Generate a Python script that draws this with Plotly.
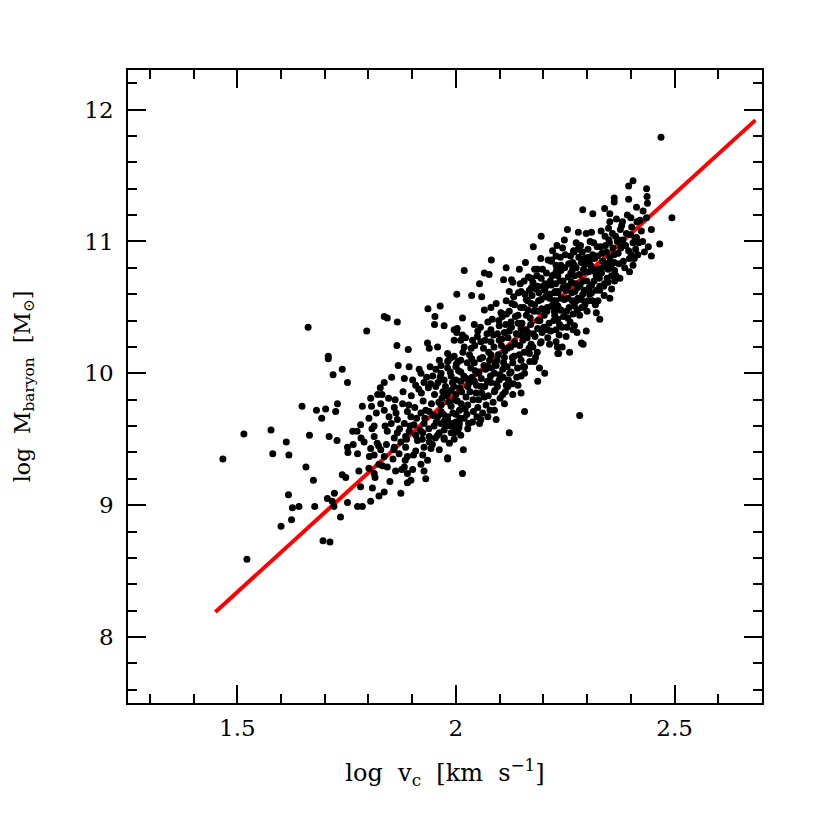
import plotly.graph_objects as go

# galaxies: (log v_c, log M_baryon)
sparse_left = [
    (1.662, 10.35), (1.708, 10.13), (1.708, 10.11), (1.719, 9.99), (1.740, 10.03),
    (1.752, 9.93), (1.648, 9.75), (1.681, 9.72), (1.702, 9.73), (1.693, 9.66),
    (1.729, 9.77), (1.725, 9.71), (1.515, 9.54), (1.577, 9.57), (1.467, 9.35),
    (1.581, 9.39), (1.612, 9.48), (1.618, 9.38), (1.665, 9.53), (1.710, 9.52),
    (1.728, 9.49), (1.764, 9.56), (1.774, 9.56), (1.752, 9.44), (1.765, 9.46),
    (1.753, 9.40), (1.775, 9.39), (1.657, 9.29), (1.674, 9.19), (1.740, 9.23),
    (1.748, 9.21), (1.617, 9.08), (1.626, 8.98), (1.641, 8.99), (1.677, 8.99),
    (1.706, 9.05), (1.717, 9.03), (1.722, 9.09), (1.721, 8.99), (1.736, 8.91),
    (1.752, 9.02), (1.775, 8.99), (1.624, 8.89), (1.600, 8.84), (1.696, 8.73),
    (1.712, 8.72), (1.522, 8.59), (1.786, 8.99), (1.805, 9.03),
]

core_left = [
    (2.002, 10.60), (1.964, 10.51), (1.936, 10.49), (1.952, 10.43), (1.951, 10.37),
    (1.836, 10.43), (1.843, 10.42), (1.866, 10.39), (1.796, 10.32), (1.973, 10.36),
    (1.996, 10.33), (2.002, 10.31), (1.996, 10.25), (1.935, 10.23), (1.939, 10.19),
    (1.958, 10.20), (1.865, 10.21), (1.891, 10.18), (1.962, 10.10), (1.981, 10.09),
    (1.989, 10.12), (2.005, 10.09), (1.868, 10.06), (1.893, 10.05), (1.916, 10.03),
    (1.920, 10.00), (1.941, 10.05), (1.954, 10.03), (1.947, 9.98), (1.966, 10.00),
    (1.973, 9.95), (1.989, 9.98), (2.000, 9.95), (1.853, 9.97), (1.882, 9.96),
    (1.901, 9.95), (1.908, 9.91), (1.927, 9.93), (1.937, 9.89), (1.954, 9.90),
    (1.970, 9.86), (1.989, 9.87), (2.008, 9.89), (1.836, 9.93), (1.821, 9.84),
    (1.831, 9.84), (1.805, 9.81), (1.828, 9.77), (1.786, 9.75), (1.807, 9.75),
    (1.836, 9.72), (1.859, 9.74), (1.878, 9.77), (1.889, 9.71), (1.897, 9.67),
    (1.920, 9.70), (1.939, 9.71), (1.958, 9.67), (1.966, 9.71), (1.981, 9.67),
    (2.000, 9.69), (1.847, 9.67), (1.866, 9.65), (1.882, 9.62), (1.904, 9.61),
    (1.927, 9.62), (1.950, 9.60), (1.966, 9.62), (1.989, 9.60), (2.008, 9.62),
    (1.801, 9.66), (1.813, 9.60), (1.782, 9.61), (1.783, 9.51), (1.790, 9.48),
    (1.813, 9.52), (1.820, 9.47), (1.843, 9.56), (1.859, 9.51), (1.866, 9.55),
    (1.885, 9.52), (1.893, 9.56), (1.908, 9.53), (1.924, 9.55), (1.939, 9.52),
    (1.958, 9.53), (1.973, 9.51), (1.996, 9.55), (1.805, 9.43), (1.813, 9.38),
    (1.828, 9.42), (1.836, 9.37), (1.859, 9.44), (1.870, 9.39), (1.885, 9.44),
    (1.889, 9.37), (1.908, 9.41), (1.924, 9.38), (1.943, 9.43), (1.962, 9.42),
    (1.981, 9.36), (1.935, 9.34), (1.778, 9.26), (1.801, 9.28), (1.813, 9.24),
    (1.824, 9.31), (1.843, 9.29), (1.862, 9.26), (1.882, 9.29), (1.889, 9.24),
    (1.901, 9.27), (1.920, 9.31), (1.927, 9.26), (1.782, 9.14), (1.809, 9.13),
    (1.824, 9.07), (1.836, 9.10), (1.874, 9.09), (1.889, 9.17), (1.897, 9.19),
    (1.931, 9.20), (1.939, 9.48), (1.927, 9.44),
]

core_middle = [
    (2.177, 10.96), (2.229, 10.89), (2.081, 10.86), (2.218, 10.85), (2.229, 10.82),
    (2.019, 10.78), (2.115, 10.80), (2.145, 10.79), (2.159, 10.84), (2.180, 10.79),
    (2.187, 10.79), (2.065, 10.76), (2.076, 10.75), (2.109, 10.71), (2.127, 10.71),
    (2.130, 10.69), (2.156, 10.70), (2.172, 10.72), (2.176, 10.69), (2.195, 10.72),
    (2.225, 10.75), (2.233, 10.74), (2.054, 10.68), (2.036, 10.59), (2.059, 10.58),
    (2.122, 10.62), (2.149, 10.62), (2.168, 10.63), (2.187, 10.66), (2.203, 10.63),
    (2.218, 10.67), (2.233, 10.61), (2.092, 10.53), (2.115, 10.55), (2.134, 10.52),
    (2.161, 10.56), (2.172, 10.53), (2.195, 10.56), (2.214, 10.57), (2.065, 10.48),
    (2.080, 10.50), (2.103, 10.46), (2.122, 10.47), (2.142, 10.44), (2.165, 10.48),
    (2.187, 10.47), (2.209, 10.50), (2.225, 10.47), (2.233, 10.41), (2.015, 10.42),
    (2.003, 10.34), (2.015, 10.29), (2.042, 10.37), (2.050, 10.32), (2.073, 10.39),
    (2.080, 10.33), (2.099, 10.36), (2.111, 10.31), (2.126, 10.39), (2.149, 10.34),
    (2.165, 10.31), (2.187, 10.34), (2.209, 10.33), (2.229, 10.33), (2.233, 10.15),
    (2.214, 10.22), (2.195, 10.24), (2.172, 10.22), (2.153, 10.25), (2.134, 10.24),
    (2.119, 10.27), (2.099, 10.25), (2.080, 10.24), (2.057, 10.24), (2.038, 10.25),
    (2.019, 10.20), (2.011, 10.25), (1.981, 10.15), (1.996, 10.13), (2.011, 10.10),
    (2.031, 10.14), (2.042, 10.08), (2.061, 10.12), (2.080, 10.14), (2.092, 10.06),
    (2.111, 10.12), (2.130, 10.08), (2.149, 10.10), (2.168, 10.15), (2.179, 10.09),
    (2.191, 10.04), (2.203, 10.00), (2.187, 9.94), (1.966, 10.06), (1.981, 10.04),
    (2.000, 10.05), (2.011, 10.01), (2.034, 10.04), (2.053, 10.01), (2.073, 10.05),
    (2.088, 10.00), (2.107, 10.03), (2.126, 10.01), (2.149, 9.98), (2.157, 10.05),
    (1.992, 9.93), (2.011, 9.94), (2.027, 9.90), (2.042, 9.94), (2.057, 9.90),
    (2.080, 9.93), (2.099, 9.95), (2.119, 9.90), (2.142, 9.91), (2.149, 9.85),
    (2.130, 9.84), (2.107, 9.84), (2.088, 9.86), (2.065, 9.82), (2.046, 9.85),
    (2.023, 9.82), (2.000, 9.84), (1.981, 9.85), (1.966, 9.76), (1.989, 9.75),
    (2.008, 9.72), (2.027, 9.76), (2.050, 9.74), (2.069, 9.76), (2.088, 9.72),
    (2.111, 9.77), (2.157, 9.71), (1.981, 9.65), (2.000, 9.63), (2.019, 9.66),
    (2.038, 9.63), (2.054, 9.62), (2.073, 9.67), (2.092, 9.65), (1.973, 9.57),
    (1.989, 9.55), (2.004, 9.56), (2.027, 9.58), (2.122, 9.55), (1.973, 9.50),
    (1.985, 9.47), (1.996, 9.50), (2.017, 9.42), (1.981, 9.35), (2.015, 9.24),
    (2.283, 9.68), (2.095, 9.90), (2.115, 9.91), (2.057, 9.65), (2.011, 9.53),
]

core_upper = [
    (2.405, 11.46), (2.395, 11.42), (2.436, 11.40), (2.362, 11.33), (2.362, 11.30),
    (2.395, 11.32), (2.438, 11.29), (2.290, 11.24), (2.313, 11.21), (2.340, 11.25),
    (2.352, 11.21), (2.352, 11.15), (2.428, 11.23), (2.436, 11.18), (2.414, 11.15),
    (2.494, 11.18), (2.447, 11.09), (2.255, 11.09), (2.280, 11.07), (2.298, 11.06),
    (2.310, 11.07), (2.376, 11.09), (2.248, 11.01), (2.275, 10.99), (2.350, 11.01),
    (2.365, 11.04), (2.372, 11.01), (2.382, 11.01), (2.400, 11.05), (2.413, 11.03),
    (2.405, 10.99), (2.378, 10.96), (2.411, 10.94), (2.440, 10.96), (2.466, 10.98),
    (2.447, 10.89), (2.195, 11.04), (2.270, 10.92), (2.279, 10.94), (2.302, 10.94),
    (2.294, 10.87), (2.306, 10.86), (2.317, 10.87), (2.334, 10.91), (2.344, 10.92),
    (2.397, 10.87), (2.401, 10.90), (2.353, 10.85), (2.362, 10.84), (2.219, 10.86),
    (2.239, 10.88), (2.240, 10.82), (2.232, 10.81), (2.267, 10.84), (2.287, 10.84),
    (2.267, 10.79), (2.271, 10.74), (2.294, 10.77), (2.313, 10.79), (2.321, 10.74),
    (2.333, 10.76), (2.348, 10.79), (2.356, 10.74), (2.363, 10.70), (2.310, 10.67),
    (2.340, 10.68), (2.329, 10.63), (2.352, 10.57), (2.206, 10.66), (2.225, 10.61),
    (2.245, 10.65), (2.264, 10.69), (2.279, 10.65), (2.290, 10.60), (2.306, 10.60),
    (2.325, 10.55), (2.302, 10.55), (2.275, 10.55), (2.256, 10.57), (2.229, 10.55),
    (2.240, 10.48), (2.271, 10.51), (2.283, 10.44), (2.321, 10.46), (2.329, 10.41),
    (2.256, 10.42), (2.237, 10.37), (2.271, 10.36), (2.298, 10.32), (2.252, 10.28),
    (2.229, 10.24), (2.287, 10.23), (2.260, 10.16), (2.235, 10.15), (2.232, 10.20),
    (2.243, 10.20), (2.291, 10.22), (2.268, 10.33), (2.469, 11.79),
]

# points inside the solid black band, where single dots merge
core_dense = [
    (1.852, 9.62), (1.861, 9.80), (1.874, 9.48), (1.879, 9.86), (1.884, 9.34),
    (1.895, 9.60), (1.898, 9.83), (1.906, 9.74), (1.912, 9.49), (1.915, 9.88),
    (1.918, 9.57), (1.925, 9.79), (1.929, 9.66), (1.933, 9.97), (1.938, 9.58),
    (1.944, 9.77), (1.946, 9.46), (1.951, 9.84), (1.955, 9.63), (1.959, 9.93),
    (1.962, 9.55), (1.968, 9.81), (1.971, 9.69), (1.976, 9.90), (1.978, 9.60),
    (1.984, 9.78), (1.987, 10.01), (1.993, 9.70), (1.995, 9.90), (1.998, 9.58),
    (2.003, 9.79), (2.006, 10.02), (2.009, 9.66), (2.013, 9.86), (2.016, 10.16),
    (2.021, 9.73), (2.024, 9.96), (2.026, 10.08), (2.029, 9.62), (2.032, 9.86),
    (2.035, 10.19), (2.037, 9.97), (2.040, 9.71), (2.044, 10.02), (2.047, 9.91),
    (2.049, 10.28), (2.052, 9.80), (2.055, 10.11), (2.058, 9.96), (2.061, 9.70),
    (2.063, 10.19), (2.066, 9.90), (2.068, 10.03), (2.071, 10.30), (2.074, 9.83),
    (2.077, 10.10), (2.079, 9.98), (2.083, 10.41), (2.085, 9.78), (2.087, 10.20),
    (2.090, 10.07), (2.093, 9.92), (2.095, 10.30), (2.097, 10.14), (2.101, 9.81),
    (2.104, 10.21), (2.106, 10.43), (2.108, 9.97), (2.112, 10.17), (2.114, 10.37),
    (2.117, 10.05), (2.120, 9.95), (2.122, 10.32), (2.125, 10.20), (2.128, 10.53),
    (2.131, 9.92), (2.133, 10.13), (2.136, 10.43), (2.138, 10.30), (2.141, 10.04),
    (2.143, 10.61), (2.146, 10.21), (2.148, 10.50), (2.151, 10.38), (2.154, 10.05),
    (2.156, 10.16), (2.158, 10.60), (2.161, 10.44), (2.163, 10.27), (2.166, 10.73),
    (2.169, 10.09), (2.171, 10.37), (2.174, 10.59), (2.176, 10.20), (2.178, 10.47),
    (2.181, 10.28), (2.183, 10.64), (2.186, 10.16), (2.189, 10.55), (2.192, 10.40),
    (2.194, 10.87), (2.197, 10.31), (2.199, 10.66), (2.202, 10.44), (2.205, 10.58),
    (2.207, 10.76), (2.210, 10.27), (2.213, 10.38), (2.216, 10.70), (2.219, 10.51),
    (2.221, 10.93), (2.224, 10.40), (2.227, 10.62), (2.230, 10.78), (2.233, 10.51),
    (2.236, 10.29), (2.238, 10.70), (2.241, 10.57), (2.244, 10.95), (2.246, 10.43),
    (2.249, 10.80), (2.251, 10.63), (2.254, 10.35), (2.257, 10.73), (2.259, 10.50),
    (2.262, 10.89), (2.265, 10.61), (2.268, 10.45), (2.271, 10.82), (2.274, 10.68),
    (2.277, 10.31), (2.279, 10.57), (2.282, 10.75), (2.285, 10.97), (2.288, 10.50),
    (2.291, 10.70), (2.294, 10.63), (2.297, 10.83), (2.300, 10.47), (2.304, 10.77),
    (2.307, 11.00), (2.310, 10.61), (2.313, 10.90), (2.316, 10.70), (2.319, 10.52),
    (2.323, 10.96), (2.326, 10.79), (2.329, 10.66), (2.332, 11.08), (2.336, 10.85),
    (2.339, 10.59), (2.342, 10.97), (2.346, 10.72), (2.349, 11.10), (2.352, 10.88),
    (2.356, 10.64), (2.359, 10.95), (2.363, 10.78), (2.367, 11.17), (2.371, 10.91),
    (2.375, 10.72), (2.379, 11.12), (2.383, 10.85), (2.388, 10.97), (2.392, 11.20),
    (2.397, 10.77), (2.402, 11.11), (2.408, 10.87), (2.413, 11.26), (2.418, 10.99),
    (2.424, 11.08), (2.431, 10.92), (2.437, 11.34), (1.802, 9.37), (1.808, 9.58),
    (1.815, 9.21), (1.818, 9.70), (1.823, 9.45), (1.827, 9.89), (1.832, 9.30),
    (1.838, 9.60), (1.841, 9.46), (1.846, 9.81), (1.849, 9.18), (1.856, 9.35),
]

core_dense2 = [
    (1.858, 9.42), (1.863, 9.70), (1.871, 9.58), (1.876, 9.27), (1.887, 9.50),
    (1.892, 9.76), (1.903, 9.38), (1.910, 9.66), (1.921, 9.85), (1.923, 9.50),
    (1.931, 9.72), (1.942, 9.92), (1.948, 9.68), (1.953, 9.51), (1.961, 9.78),
    (1.964, 9.97), (1.974, 9.64), (1.979, 9.83), (1.983, 10.10), (1.991, 9.62),
    (1.997, 9.80), (2.001, 10.07), (2.007, 9.59), (2.012, 9.77), (2.018, 9.98),
    (2.022, 10.27), (2.025, 9.69), (2.031, 9.93), (2.036, 10.11), (2.039, 9.80),
    (2.043, 10.21), (2.048, 9.67), (2.051, 10.00), (2.056, 10.35), (2.059, 9.85),
    (2.064, 10.06), (2.067, 10.25), (2.072, 9.94), (2.075, 10.16), (2.078, 9.72),
    (2.082, 10.04), (2.086, 10.29), (2.089, 9.87), (2.094, 10.10), (2.098, 10.40),
    (2.100, 9.99), (2.105, 10.26), (2.109, 10.08), (2.113, 9.86), (2.116, 10.45),
    (2.118, 10.19), (2.123, 10.00), (2.127, 10.35), (2.129, 10.12), (2.132, 10.58),
    (2.135, 10.22), (2.139, 9.97), (2.142, 10.38), (2.145, 10.14), (2.147, 10.68),
    (2.150, 10.29), (2.155, 10.50), (2.157, 10.00), (2.160, 10.33), (2.164, 10.55),
    (2.167, 10.19), (2.170, 10.42), (2.173, 10.65), (2.177, 10.30), (2.180, 10.52),
    (2.182, 10.12), (2.185, 10.74), (2.188, 10.40), (2.190, 10.61), (2.193, 10.23),
    (2.196, 10.49), (2.198, 10.79), (2.201, 10.35), (2.204, 10.68), (2.208, 10.47),
    (2.211, 10.86), (2.214, 10.60), (2.217, 10.32), (2.220, 10.74), (2.223, 10.55),
    (2.226, 10.44), (2.228, 10.68), (2.231, 10.97), (2.234, 10.62), (2.237, 10.48),
    (2.240, 10.78), (2.243, 10.35), (2.245, 10.70), (2.248, 10.56), (2.250, 10.90),
    (2.253, 10.47), (2.256, 10.66), (2.258, 10.83), (2.261, 10.39), (2.263, 10.76),
    (2.266, 10.55), (2.269, 10.93), (2.272, 10.62), (2.275, 10.80), (2.278, 10.48),
    (2.281, 10.88), (2.284, 10.67), (2.287, 10.56), (2.289, 10.92), (2.292, 10.79),
    (2.295, 10.52), (2.299, 10.70), (2.302, 10.88), (2.305, 10.65), (2.308, 10.82),
    (2.312, 10.55), (2.315, 10.99), (2.318, 10.77), (2.321, 10.63), (2.324, 10.89),
    (2.328, 10.72), (2.331, 10.96), (2.334, 10.80), (2.338, 10.66), (2.341, 11.04),
    (2.344, 10.83), (2.348, 10.69), (2.351, 10.99), (2.355, 10.81), (2.358, 11.06),
    (2.362, 10.90), (2.366, 10.74), (2.369, 11.00), (2.373, 10.83), (2.377, 10.95),
    (2.381, 11.15), (2.386, 10.80), (2.390, 11.06), (2.395, 10.93), (2.400, 11.18),
    (2.405, 10.82), (2.410, 11.02), (2.416, 10.90), (2.421, 11.16), (2.427, 11.00),
]

# fitted relation (red line)
fit_x = [1.45, 2.685]
fit_y = [8.19, 11.92]

galaxies = sparse_left + core_left + core_middle + core_upper + core_dense + core_dense2
log_vc = [p[0] for p in galaxies]
log_mb = [p[1] for p in galaxies]

tick_font = dict(family="DejaVu Serif", size=23, color="black")
title_font = dict(family="DejaVu Serif", size=24, color="black")

fig = go.Figure()
fig.add_trace(go.Scatter(x=fit_x, y=fit_y, mode="lines",
                         line=dict(color="#ff0000", width=4), hoverinfo="skip"))
fig.add_trace(go.Scatter(x=log_vc, y=log_mb, mode="markers",
                         marker=dict(color="black", size=7, line=dict(width=0))))

axis = dict(showgrid=False, zeroline=False, showline=True, linecolor="black",
            linewidth=1.5, mirror="allticks", ticks="inside", ticklen=18,
            tickwidth=1.5, tickcolor="black", tickfont=tick_font)

fig.update_xaxes(range=[1.25, 2.7], tickvals=[1.5, 2, 2.5], ticktext=["1.5", "2", "2.5"],
                 minor=dict(dtick=0.1, tick0=0, ticks="inside", ticklen=9,
                            tickwidth=1.5, tickcolor="black"),
                 ticklabelstandoff=4,
                 title=dict(text="log\u00a0\u00a0v<sub>c</sub>\u00a0\u00a0[km\u00a0\u00a0s<sup>\u22121</sup>]",
                            font=title_font, standoff=24),
                 **axis)
fig.update_yaxes(range=[7.5, 12.3], tickvals=[8, 9, 10, 11, 12],
                 minor=dict(dtick=0.2, tick0=0, ticks="inside", ticklen=9,
                            tickwidth=1.5, tickcolor="black"),
                 ticklabelstandoff=8,
                 title=dict(text="log\u00a0\u00a0M<sub>baryon</sub>\u00a0\u00a0[M<sub>\u2299</sub>]",
                            font=dict(family="DejaVu Serif", size=22, color="black"),
                            standoff=48),
                 **axis)

fig.update_layout(width=830, height=830, showlegend=False,
                  paper_bgcolor="white", plot_bgcolor="white",
                  margin=dict(l=120, r=76, t=62, b=135))

fig.write_html("out.html")
